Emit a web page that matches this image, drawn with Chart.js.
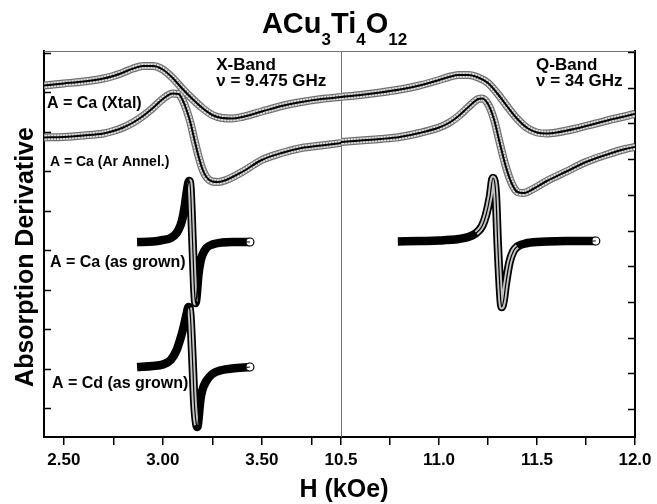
<!DOCTYPE html>
<html>
<head>
<meta charset="utf-8">
<script src="https://cdn.jsdelivr.net/npm/chart.js@4.4.1/dist/chart.umd.min.js"></script>
<style>
  html, body { margin: 0; padding: 0; background: #fff; }
</style>
</head>
<body>
<canvas id="epr" width="657" height="504"></canvas>
<script>
// magnetic field H (kOe) and derivative signal (arb. units)
const xtalXField  = [2.40, 2.50, 2.60, 2.70, 2.75, 2.80, 2.85, 2.90, 2.95, 3.00, 3.05, 3.10, 3.15, 3.20, 3.25, 3.30, 3.35, 3.40, 3.50, 3.60, 3.70, 3.80, 3.90];
const xtalXSignal = [351.5, 353.5, 355.5, 358.5, 361, 364.5, 368.5, 371, 371, 367.5, 359, 348, 338, 329, 322, 319, 318.5, 320, 325.5, 331, 335, 338, 340];

const xtalQField  = [10.50, 10.60, 10.70, 10.80, 10.90, 11.00, 11.05, 11.10, 11.15, 11.20, 11.25, 11.30, 11.35, 11.40, 11.45, 11.50, 11.55, 11.60, 11.70, 11.80, 11.90, 12.00];
const xtalQSignal = [340, 342, 344.5, 347.5, 351.5, 357, 360, 362, 362, 359.5, 354, 343, 330, 318, 309, 304.5, 303.5, 304.5, 308.5, 313.5, 318.5, 323];

const arXField  = [2.40, 2.50, 2.60, 2.70, 2.75, 2.80, 2.85, 2.90, 2.95, 3.00, 3.05, 3.08, 3.10, 3.12, 3.14, 3.16, 3.18, 3.20, 3.22, 3.25, 3.28, 3.32, 3.40, 3.50, 3.60, 3.70, 3.80, 3.90];
const arXSignal = [299.5, 300, 301.5, 303.5, 306, 309.5, 314.5, 321, 329, 338, 343.5, 343, 337, 327, 314, 297, 281, 268, 260, 255.5, 255, 257, 265, 277, 284, 289, 291.5, 294];

const arQField  = [10.50, 10.60, 10.70, 10.80, 10.90, 11.00, 11.05, 11.10, 11.15, 11.20, 11.22, 11.25, 11.28, 11.31, 11.34, 11.37, 11.40, 11.43, 11.48, 11.55, 11.65, 11.75, 11.85, 11.95, 12.00];
const arQSignal = [295, 296.5, 298, 300, 304, 309.5, 314, 321, 330, 338, 338.5, 333, 318, 294, 271, 254, 245, 244, 248, 256, 265.5, 275, 282, 288, 290];

const caXField  = [2.87, 2.95, 3.00, 3.04, 3.07, 3.09, 3.10, 3.11, 3.12, 3.13, 3.135, 3.14, 3.15, 3.16, 3.165, 3.17, 3.18, 3.19, 3.20, 3.22, 3.25, 3.30, 3.35, 3.44];
const caXSignal = [195, 195.5, 197, 199, 204, 212, 219, 230, 244, 255, 256, 247, 197, 147, 134, 139, 162, 175, 182, 189, 192.5, 194.5, 195, 195];

const caQField  = [10.79, 10.90, 11.00, 11.10, 11.15, 11.19, 11.22, 11.24, 11.26, 11.275, 11.29, 11.30, 11.315, 11.32, 11.33, 11.34, 11.36, 11.38, 11.40, 11.45, 11.55, 11.65, 11.80];
const caQSignal = [195.5, 196, 196.5, 198, 200, 204, 211, 222, 240, 259, 242, 192, 137, 130, 137, 152, 175, 186, 190.5, 194, 195.5, 196, 196];

const cdXField  = [2.87, 2.95, 3.00, 3.04, 3.07, 3.09, 3.10, 3.11, 3.12, 3.13, 3.135, 3.14, 3.15, 3.16, 3.17, 3.175, 3.18, 3.19, 3.20, 3.22, 3.25, 3.30, 3.35, 3.44];
const cdXSignal = [70, 71, 72.5, 77, 87, 99, 106, 114, 123, 130, 129, 119, 77, 32, 12, 10, 17, 37, 47, 56, 63, 67, 68.5, 70];

// axis ticks
const xBandTicks = [2.50, 2.75, 3.00, 3.25, 3.50, 3.75];
const xBandTickLabels = ['2.50', '', '3.00', '', '3.50', ''];
const qBandTicks = [10.50, 10.75, 11.00, 11.25, 11.50, 11.75, 12.00];
const qBandTickLabels = ['10.5', '', '11.0', '', '11.5', '', '12.0'];
const leftTicks = [29, 68.5, 108, 147.5, 187, 226.5, 266, 305.5, 345, 384.5];
const rightTicks = [28, 63.7, 99.4, 135.1, 170.8, 206.5, 242.2, 277.9, 313.6, 349.3, 385];

// text inside the plot (H, signal of the left edge / baseline)
const notes = [
    { text: 'A = Ca (Xtal)', axis: 'x', h: 2.415, v: 329, size: 16 },
    { text: 'A = Ca (Ar Annel.)', axis: 'x', h: 2.43, v: 271, size: 14 },
    { text: 'A = Ca (as grown)', axis: 'x', h: 2.43, v: 170, size: 16 },
    { text: 'A = Cd (as grown)', axis: 'x', h: 2.44, v: 49, size: 16 },
    { text: 'X-Band', axis: 'x', h: 3.27, v: 367, size: 17 },
    { text: 'ν = 9.475 GHz', axis: 'x', h: 3.27, v: 351, size: 17 },
    { text: 'Q-Band', axis: 'x2', h: 11.495, v: 367, size: 17 },
    { text: 'ν = 34 GHz', axis: 'x2', h: 11.495, v: 351, size: 17 }
];

const FONT = "'Liberation Sans', Arial, Helvetica, sans-serif";

function toPoints(field, signal) {
    return field.map((h, i) => ({ x: h, y: signal[i] }));
}

// een curve = brede band (meetpunten) + dunne lijn (fit)
function makeCurve(field, signal, xAxis, kind) {
    const pts = toPoints(field, signal);
    const common = { xAxisID: xAxis, yAxisID: 'y', pointRadius: 0, cubicInterpolationMode: 'monotone', fill: false };
    if (kind === 'band') {
        return [
            { ...common, data: pts, borderColor: '#6f6f6f', borderWidth: 8, order: 4 },
            { ...common, data: pts, borderColor: '#e2e2e2', borderWidth: 5.5, order: 3 },
            { ...common, data: pts, borderColor: '#8c8c8c', borderWidth: 5.5, borderDash: [1, 2], order: 2 },
            { ...common, data: pts, borderColor: '#000', borderWidth: 2, order: 1 }
        ];
    }
    const last = pts.length - 1;
    const steepOnlyDown = kind === 'denseX';
    return [
        { ...common, data: pts, borderColor: '#000', borderWidth: 8.5, order: 3,
          pointRadius: c => c.dataIndex === last ? 4 : 0,
          pointBackgroundColor: '#fff', pointBorderColor: '#000', pointBorderWidth: 1.2 },
        { ...common, data: pts, borderWidth: 5, order: 2,
          segment: {
              borderColor: c => {
                  const dx = Math.abs(c.p1.x - c.p0.x);
                  const dy = c.p1.y - c.p0.y;
                  const steep = steepOnlyDown ? dy > 2.5 * dx : Math.abs(dy) > 0.8 * dx;
                  return steep ? '#c4c4c4' : 'rgba(0,0,0,0)';
              }
          } },
        { ...common, data: pts, borderColor: '#000', borderWidth: 1.2, order: 1 }
    ];
}

const datasets = [].concat(
    makeCurve(xtalXField, xtalXSignal, 'x', 'band'),
    makeCurve(xtalQField, xtalQSignal, 'x2', 'band'),
    makeCurve(arXField, arXSignal, 'x', 'band'),
    makeCurve(arQField, arQSignal, 'x2', 'band'),
    makeCurve(caXField, caXSignal, 'x', 'denseX'),
    makeCurve(caQField, caQSignal, 'x2', 'denseQ'),
    makeCurve(cdXField, cdXSignal, 'x', 'denseX')
);

const frameAndText = {
    id: 'frameAndText',
    beforeDatasetsDraw(chart) {
        const { ctx, chartArea: a, scales } = chart;
        ctx.save();
        ctx.strokeStyle = '#707070';
        ctx.lineWidth = 1;
        ctx.beginPath();
        ctx.moveTo(a.left, a.top + 0.5);
        ctx.lineTo(a.right, a.top + 0.5);
        const xb = Math.round(scales.x2.left) + 0.5;
        ctx.moveTo(xb, a.top);
        ctx.lineTo(xb, a.bottom);
        ctx.stroke();
        ctx.restore();
    },
    afterDraw(chart) {
        const { ctx, chartArea: a, scales } = chart;
        ctx.save();

        // naar binnen gerichte ticks links en rechts
        ctx.strokeStyle = '#000';
        ctx.lineWidth = 1.5;
        ctx.beginPath();
        leftTicks.forEach(v => {
            const py = Math.round(scales.y.getPixelForValue(v)) + 0.5;
            ctx.moveTo(a.left, py);
            ctx.lineTo(a.left + 7, py);
        });
        rightTicks.forEach(v => {
            const py = Math.round(scales.y2.getPixelForValue(v)) + 0.5;
            ctx.moveTo(a.right, py);
            ctx.lineTo(a.right - 7, py);
        });
        ctx.stroke();

        ctx.fillStyle = '#000';
        ctx.textBaseline = 'alphabetic';
        ctx.textAlign = 'left';
        notes.forEach(n => {
            ctx.font = 'bold ' + n.size + 'px ' + FONT;
            ctx.fillText(n.text, scales[n.axis].getPixelForValue(n.h), scales.y.getPixelForValue(n.v));
        });

        // titel met subscripts
        const parts = [['ACu', 0], ['3', 1], ['Ti', 0], ['4', 1], ['O', 0], ['12', 1]];
        const big = 'bold 29px ' + FONT, small = 'bold 17px ' + FONT;
        let w = 0;
        parts.forEach(p => { ctx.font = p[1] ? small : big; w += ctx.measureText(p[0]).width; });
        let tx = 334.5 - w / 2;
        parts.forEach(p => {
            ctx.font = p[1] ? small : big;
            ctx.fillText(p[0], tx, p[1] ? 45 : 33);
            tx += ctx.measureText(p[0]).width;
        });

        // as-titels
        ctx.font = 'bold 25px ' + FONT;
        ctx.textAlign = 'center';
        ctx.fillText('H (kOe)', 344, 497);
        ctx.translate(33, 257);
        ctx.rotate(-Math.PI / 2);
        ctx.fillText('Absorption Derivative', 0, 0);
        ctx.restore();
    }
};

const tickFont = { family: FONT, size: 17, weight: 'bold' };

new Chart(document.getElementById('epr'), {
    type: 'line',
    data: { datasets: datasets },
    options: {
        responsive: false,
        animation: false,
        events: [],
        layout: { padding: { top: 51, left: 0, right: 0, bottom: 0 } },
        plugins: { legend: { display: false }, tooltip: { enabled: false }, title: { display: false } },
        scales: {
            x: {
                type: 'linear', position: 'bottom', stack: 'field', stackWeight: 297,
                min: 2.40, max: 3.90,
                afterBuildTicks: s => { s.ticks = xBandTicks.map(v => ({ value: v })); },
                afterFit: s => { s.height = 67; },
                ticks: { callback: (v, i) => xBandTickLabels[i], font: tickFont, color: '#000', padding: 5, maxRotation: 0, minRotation: 0, autoSkip: false },
                grid: { drawOnChartArea: false, drawTicks: true, tickLength: 8, color: '#000', lineWidth: 1.5 },
                border: { display: true, color: '#000', width: 2 }
            },
            x2: {
                type: 'linear', position: 'bottom', stack: 'field', stackWeight: 294,
                min: 10.5, max: 12.0,
                afterBuildTicks: s => { s.ticks = qBandTicks.map(v => ({ value: v })); },
                afterFit: s => { s.height = 67; },
                ticks: { callback: (v, i) => qBandTickLabels[i], font: tickFont, color: '#000', padding: 5, maxRotation: 0, minRotation: 0, autoSkip: false },
                grid: { drawOnChartArea: false, drawTicks: true, tickLength: 8, color: '#000', lineWidth: 1.5 },
                border: { display: true, color: '#000', width: 2 }
            },
            y: {
                type: 'linear', position: 'left', min: 0, max: 386,
                afterFit: s => { s.width = 44; },
                ticks: { display: false },
                grid: { display: false },
                border: { display: true, color: '#000', width: 2 }
            },
            y2: {
                type: 'linear', position: 'right', min: 0, max: 386,
                afterFit: s => { s.width = 22; },
                ticks: { display: false },
                grid: { display: false },
                border: { display: true, color: '#000', width: 2 }
            }
        }
    },
    plugins: [frameAndText]
});
</script>
</body>
</html>
